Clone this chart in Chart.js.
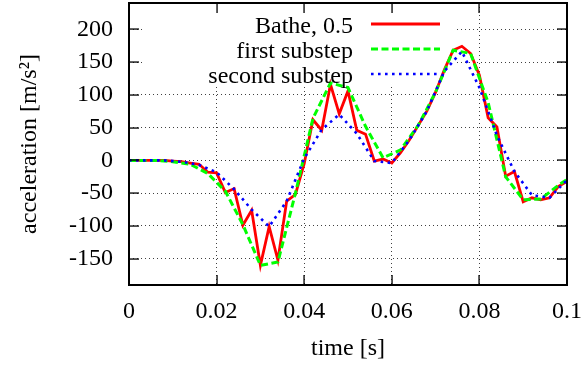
<!DOCTYPE html>
<html>
<head>
<meta charset="utf-8">
<script src="https://cdn.jsdelivr.net/npm/chart.js@4"></script>
<style>
  body { margin: 0; background: #fff; overflow: hidden; }
  canvas { display: block; }
</style>
</head>
<body>
<canvas id="chart" width="584" height="365"></canvas>
<script>
// Bathe, 0.5 -- every sub step (dt = 0.002 s)
const timeBathe = [0, 0.002, 0.004, 0.006, 0.008, 0.01, 0.012, 0.014, 0.016, 0.018,
  0.02, 0.022, 0.024, 0.026, 0.028, 0.03, 0.032, 0.034, 0.036, 0.038,
  0.04, 0.042, 0.044, 0.046, 0.048, 0.05, 0.052, 0.054, 0.056, 0.058,
  0.06, 0.062, 0.064, 0.066, 0.068, 0.07, 0.072, 0.074, 0.076, 0.078,
  0.08, 0.082, 0.084, 0.086, 0.088, 0.09, 0.092, 0.094, 0.096, 0.098, 0.1];
const accBathe = [0, 0, 0, 0, 0, -1, -2, -4, -6, -18,
  -19, -49, -43, -99, -76, -160, -101, -152, -62, -52,
  -5, 62, 46, 116, 71, 106, 46, 40, -1, 2,
  -4, 12, 31, 53, 75, 104, 138, 168, 174, 163,
  130, 65, 51, -24, -17, -63, -57, -60, -57, -40, -32];

// first substep
const timeFirst = [0, 0.002, 0.006, 0.01, 0.014, 0.018, 0.022, 0.026, 0.03, 0.034,
  0.038, 0.042, 0.046, 0.05, 0.054, 0.058, 0.062, 0.066, 0.07, 0.074,
  0.078, 0.082, 0.086, 0.09, 0.094, 0.098, 0.1];
const accFirst = [0, 0, 0, -2, -6, -20, -47, -98, -160, -155,
  -50, 64, 118, 111, 52, 4, 16, 53, 104, 168,
  163, 88, -25, -60, -59, -38, -29];

// second substep
const timeSecond = [0, 0.004, 0.008, 0.012, 0.016, 0.02, 0.024, 0.028, 0.032, 0.036,
  0.04, 0.044, 0.048, 0.052, 0.056, 0.06, 0.064, 0.068, 0.072, 0.076,
  0.08, 0.084, 0.088, 0.092, 0.096, 0.1];
const accSecond = [0, 0, 0, -2, -7, -18, -44, -75, -101, -62,
  3, 47, 70, 41, -1, -4, 31, 75, 136, 166,
  111, 38, -17, -53, -57, -30];

const xRange = [0, 0.1];
const yRange = [-190, 240];
const xTicks = [0, 0.02, 0.04, 0.06, 0.08, 0.1];
const xTickLabels = ['0', '0.02', '0.04', '0.06', '0.08', '0.1'];
const yTicks = [-150, -100, -50, 0, 50, 100, 150, 200];

const FONT = 'Liberation Serif';

function points(xs, ys) {
  return xs.map((t, i) => ({ x: t, y: ys[i] }));
}

// no extra room for the outer tick labels, the plot box is fixed
function noPadding(s) {
  s.paddingTop = 0;
  s.paddingBottom = 0;
  s.paddingLeft = 0;
  s.paddingRight = 0;
}

// border box with inward ticks, placed from the scales themselves
function drawFrame(chart) {
  const ctx = chart.ctx;
  const xs = chart.scales.x;
  const ys = chart.scales.y;
  const L = xs.getPixelForValue(xRange[0]);
  const R = xs.getPixelForValue(xRange[1]);
  const T = ys.getPixelForValue(yRange[1]);
  const B = ys.getPixelForValue(yRange[0]);
  ctx.save();
  ctx.fillStyle = '#000';
  ctx.fillRect(L - 1, T - 1, R - L + 2, 2);
  ctx.fillRect(L - 1, B - 1, R - L + 2, 2);
  ctx.fillRect(L - 1, T - 1, 2, B - T + 2);
  ctx.fillRect(R - 1, T - 1, 2, B - T + 2);
  xTicks.forEach(v => {
    const px = Math.round(xs.getPixelForValue(v));
    ctx.fillRect(px - 0.6, B - 10, 1.3, 10);
    ctx.fillRect(px - 0.6, T, 1.3, 10);
  });
  yTicks.forEach(v => {
    const py = Math.round(ys.getPixelForValue(v));
    ctx.fillRect(L, py - 0.6, 10, 1.3);
    ctx.fillRect(R - 10, py - 0.6, 10, 1.3);
  });
  ctx.restore();
}

// gnuplot-like opaque key, frame and legend
const keyBox = {
  id: 'keyBox',
  beforeDatasetsDraw(chart) {
    const ctx = chart.ctx;
    ctx.save();
    ctx.fillStyle = '#fff';
    ctx.fillRect(142, 5, 312, 82);
    ctx.restore();
  },
  afterDatasetsDraw(chart) {
    const ctx = chart.ctx;
    drawFrame(chart);
    ctx.save();
    ctx.font = '24px "' + FONT + '"';
    ctx.textAlign = 'right';
    ctx.textBaseline = 'alphabetic';
    chart.data.datasets.forEach((ds, i) => {
      const y = 24 + i * 25;
      ctx.fillStyle = '#000';
      ctx.fillText(ds.label, 353, y + 8.5);
      ctx.strokeStyle = ds.borderColor;
      ctx.lineWidth = ds.borderWidth;
      ctx.setLineDash(ds.borderDash || []);
      ctx.beginPath();
      ctx.moveTo(371, y);
      ctx.lineTo(440, y);
      ctx.stroke();
    });
    ctx.restore();
  }
};

new Chart(document.getElementById('chart'), {
  type: 'line',
  data: {
    datasets: [
      {
        label: 'Bathe, 0.5',
        data: points(timeBathe, accBathe),
        borderColor: '#ff0000',
        borderWidth: 2.8,
        order: 3
      },
      {
        label: 'first substep',
        data: points(timeFirst, accFirst),
        borderColor: '#00ff00',
        borderWidth: 3,
        borderDash: [7, 3.5],
        order: 2
      },
      {
        label: 'second substep',
        data: points(timeSecond, accSecond),
        borderColor: '#0000ff',
        borderWidth: 2.6,
        borderDash: [2.6, 4.4],
        order: 1
      }
    ]
  },
  options: {
    responsive: false,
    animation: false,
    layout: { padding: { top: 3, right: 17, left: 0, bottom: 0 } },
    elements: {
      point: { radius: 0 },
      line: { tension: 0, fill: false }
    },
    plugins: {
      legend: { display: false },
      tooltip: { enabled: false }
    },
    scales: {
      x: {
        type: 'linear',
        min: xRange[0],
        max: xRange[1],
        afterBuildTicks: s => { s.ticks = xTicks.map(v => ({ value: v })); },
        afterFit: s => { s.height = 80; noPadding(s); },
        grid: { color: 'rgba(0,0,0,0.75)', lineWidth: 1, drawTicks: false },
        border: { display: false, dash: [1, 3] },
        ticks: {
          padding: 12,
          color: '#000',
          font: { family: FONT, size: 24 },
          maxRotation: 0,
          callback: (v, i) => xTickLabels[i]
        },
        title: {
          display: true,
          text: 'time [s]',
          color: '#000',
          font: { family: FONT, size: 24 },
          padding: { top: 0, bottom: 2 }
        }
      },
      y: {
        min: yRange[0],
        max: yRange[1],
        afterBuildTicks: s => { s.ticks = yTicks.map(v => ({ value: v })); },
        afterFit: s => { s.width = 129; noPadding(s); },
        grid: { color: 'rgba(0,0,0,0.75)', lineWidth: 1, drawTicks: false },
        border: { display: false, dash: [1, 3] },
        ticks: {
          padding: 16,
          color: '#000',
          font: { family: FONT, size: 24 }
        },
        title: {
          display: true,
          text: 'acceleration [m/s²]',
          color: '#000',
          font: { family: FONT, size: 24 },
          padding: { top: 15, bottom: 0 }
        }
      }
    }
  },
  plugins: [keyBox]
});
</script>
</body>
</html>
